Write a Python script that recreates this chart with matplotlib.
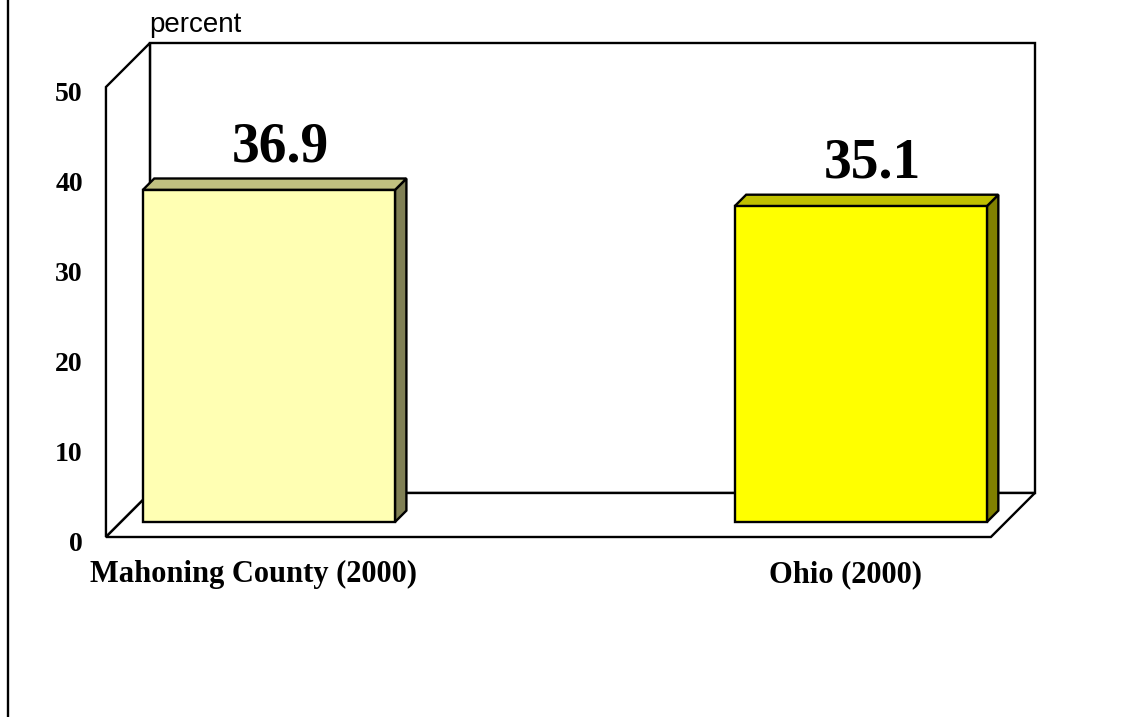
import matplotlib
matplotlib.use("Agg")
import matplotlib.pyplot as plt
from matplotlib.patches import Polygon
from matplotlib.lines import Line2D

# Data
categories = ["Mahoning County (2000)", "Ohio (2000)"]
values = [36.9, 35.1]
value_labels = ["36.9", "35.1"]
yticks = [0, 10, 20, 30, 40, 50]
y_label = "percent"

front_colors = ["#FFFFB3", "#FFFF00"]
top_colors = ["#C0C080", "#C0C000"]
side_colors = ["#808055", "#808000"]

# pseudo-3D depth offset (x in category units, y in value units)
DX = 0.0743
DY = 4.89
BAR_W = 0.426
D_FRONT, D_BACK = 0.34, 0.60
X_LO, X_HI = -0.25, 1.245
Y_MAX = 50

serif = "Liberation Serif"
sans = "Liberation Sans"


def proj(x, y, d):
    return (x + d * DX, y + d * DY)


fig = plt.figure(figsize=(11.30, 7.17), dpi=100)
ax = fig.add_axes([0, 0, 1, 1])
ax.set_xlim(-0.429, 1.480)
ax.set_ylim(-20, 59.667)
ax.axis("off")

lw = 1.7
# back wall
ax.add_patch(Polygon([proj(X_LO, 0, 1), proj(X_LO, Y_MAX, 1), proj(X_HI, Y_MAX, 1),
                      proj(X_HI, 0, 1)], closed=True, fc="white", ec="black", lw=lw))
# left wall
ax.add_patch(Polygon([proj(X_LO, 0, 0), proj(X_LO, Y_MAX, 0), proj(X_LO, Y_MAX, 1),
                      proj(X_LO, 0, 1)], closed=True, fc="white", ec="black", lw=lw))
# floor
ax.add_patch(Polygon([proj(X_LO, 0, 0), proj(X_LO, 0, 1), proj(X_HI, 0, 1),
                      proj(X_HI, 0, 0)], closed=True, fc="white", ec="black", lw=lw))

# bars
for i, v in enumerate(values):
    x0, x1 = i - BAR_W / 2, i + BAR_W / 2
    side = [proj(x1, 0, D_FRONT), proj(x1, v, D_FRONT), proj(x1, v, D_BACK), proj(x1, 0, D_BACK)]
    top = [proj(x0, v, D_FRONT), proj(x0, v, D_BACK), proj(x1, v, D_BACK), proj(x1, v, D_FRONT)]
    front = [proj(x0, 0, D_FRONT), proj(x0, v, D_FRONT), proj(x1, v, D_FRONT), proj(x1, 0, D_FRONT)]
    ax.add_patch(Polygon(side, closed=True, fc=side_colors[i], ec="black", lw=lw, joinstyle="miter"))
    ax.add_patch(Polygon(top, closed=True, fc=top_colors[i], ec="black", lw=lw, joinstyle="miter"))
    ax.add_patch(Polygon(front, closed=True, fc=front_colors[i], ec="black", lw=lw, joinstyle="miter"))
    lx, ly = proj(i, v, D_BACK)
    ax.text(lx, ly + 1.9, value_labels[i], ha="center", va="baseline",
            fontsize=40, fontweight="bold", family=serif)
    ax.text(i, -4.2, categories[i], ha="center", va="center",
            fontsize=22, fontweight="bold", family=serif)

# y tick labels
for t in yticks:
    ax.text(-0.289, t - 0.8, str(t), ha="right", va="center",
            fontsize=20, fontweight="bold", family=serif)

px, py = proj(X_LO, Y_MAX, 1)
ax.text(px - 0.002, py + 0.55, y_label, ha="left", va="bottom", fontsize=20, family=sans)

# left edge of the chart frame
fig.add_artist(Line2D([8 / 1130, 8 / 1130], [0, 1], color="black", lw=1.7,
                      transform=fig.transFigure))

fig.savefig("out.png", dpi=100)
